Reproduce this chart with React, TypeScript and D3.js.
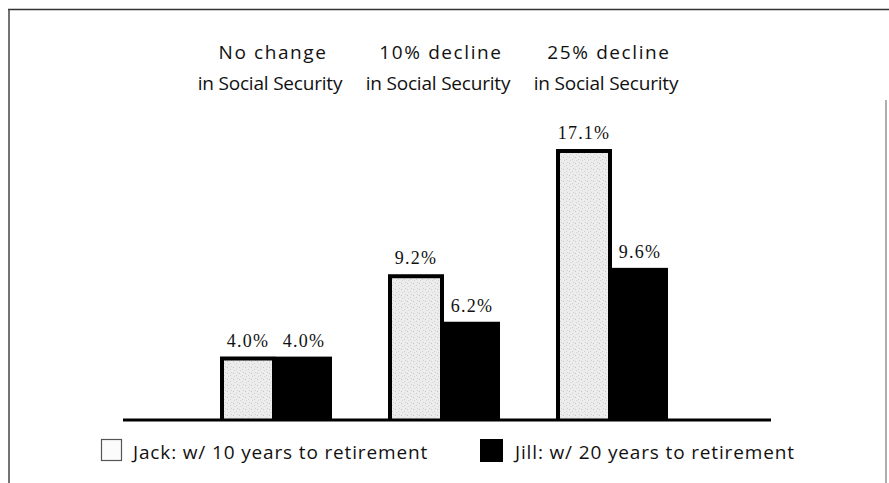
import React from "react";
import * as d3 from "d3";

// Scenario headers (two lines each)
const scenarioLine1: string[] = ["No change", "10% decline", "25% decline"];
const scenarioLine2: string[] = ["in Social Security", "in Social Security", "in Social Security"];

// Series
const seriesNames: string[] = ["Jack", "Jill"];
const seriesLegend: string[] = ["Jack: w/ 10 years to retirement", "Jill: w/ 20 years to retirement"];
const jackValues: number[] = [4.0, 9.2, 17.1];
const jillValues: number[] = [4.0, 6.2, 9.6];

const W = 889;
const H = 483;

export default function App() {
  const scenarios = scenarioLine1.map((_, i) => `s${i}`);

  const x0 = d3.scaleBand<string>().domain(scenarios).range([220, 668]).paddingInner(1 / 3).paddingOuter(0);
  const x1 = d3.scaleBand<string>().domain(seriesNames).range([0, x0.bandwidth()]);
  const y = d3.scaleLinear().domain([0, 17.1]).range([420, 149]);

  const rows = scenarios.map((s, i) => ({
    key: s,
    values: [
      { name: "Jack", v: jackValues[i] },
      { name: "Jill", v: jillValues[i] },
    ],
  }));

  const sans = "'Open Sans', 'DejaVu Sans', sans-serif";
  const serif = "'Liberation Serif', 'DejaVu Serif', serif";
  const fmt = d3.format(".1f");

  return (
    <svg
      width={W}
      height={H}
      viewBox={`0 0 ${W} ${H}`}
      style={{ position: "absolute", left: 0, top: 0, background: "#fff" }}
    >
      <defs>
        <pattern id="stipple" width="6" height="6" patternUnits="userSpaceOnUse">
          <rect width="6" height="6" fill="#ececec" />
          <rect x="1" y="1" width="1" height="1" fill="#c4c4c4" />
          <rect x="4" y="3" width="1" height="1" fill="#cfcfcf" />
          <rect x="2" y="4" width="1" height="1" fill="#d6d6d6" />
          <rect x="5" y="0" width="1" height="1" fill="#d0d0d0" />
        </pattern>
      </defs>

      {/* frame */}
      <line x1={8} y1={9.5} x2={889} y2={9.5} stroke="#333" strokeWidth={1.5} />
      <line x1={9} y1={9} x2={9} y2={483} stroke="#444" strokeWidth={1.5} />
      <line x1={886} y1={100} x2={886} y2={483} stroke="#777" strokeWidth={1.2} />

      {/* scenario headers */}
      {scenarios.map((s, i) => {
        const cx = (x0(s) ?? 0) + x0.bandwidth() / 2;
        return (
          <g key={s} fontFamily={sans} fill="#111" textAnchor="middle">
            <text x={cx - 3} y={59} fontSize={19} letterSpacing={1.6}>
              {scenarioLine1[i]}
            </text>
            <text x={cx - 6} y={90} fontSize={19} letterSpacing={-0.2}>
              {scenarioLine2[i]}
            </text>
          </g>
        );
      })}

      {/* bars */}
      {rows.map((r) => (
        <g key={r.key} transform={`translate(${x0(r.key)},0)`}>
          {r.values.map((d) => {
            const bx = x1(d.name) ?? 0;
            const bw = x1.bandwidth();
            const top = y(d.v);
            const base = y(0);
            const isJack = d.name === "Jack";
            return (
              <g key={d.name}>
                {isJack ? (
                  <>
                    <rect x={bx} y={top} width={bw} height={base - top} fill="url(#stipple)" />
                    <path
                      d={`M${bx + 2},${base} L${bx + 2},${top + 2} L${bx + bw - 2},${top + 2} L${bx + bw - 2},${base}`}
                      fill="none"
                      stroke="#000"
                      strokeWidth={4}
                    />
                  </>
                ) : (
                  <rect x={bx} y={top} width={bw} height={base - top} fill="#000" />
                )}
                <text
                  x={bx + bw / 2}
                  y={top - 10}
                  textAnchor="middle"
                  fontFamily={serif}
                  fontSize={18}
                  letterSpacing={1.2}
                  fill="#111"
                >
                  {fmt(d.v)}%
                </text>
              </g>
            );
          })}
        </g>
      ))}

      {/* baseline */}
      <line x1={123} y1={y(0)} x2={771} y2={y(0)} stroke="#000" strokeWidth={3} />

      {/* legend */}
      <g fontFamily={sans} fontSize={19} letterSpacing={0.85} fill="#111">
        <rect x={101.5} y={439.5} width={20} height={21} fill="#fbfbfb" stroke="#555" strokeWidth={1.2} />
        <text x={133} y={459}>{seriesLegend[0]}</text>
        <rect x={480} y={439} width={23} height={23} fill="#000" />
        <text x={515} y={459}>{seriesLegend[1]}</text>
      </g>
    </svg>
  );
}
